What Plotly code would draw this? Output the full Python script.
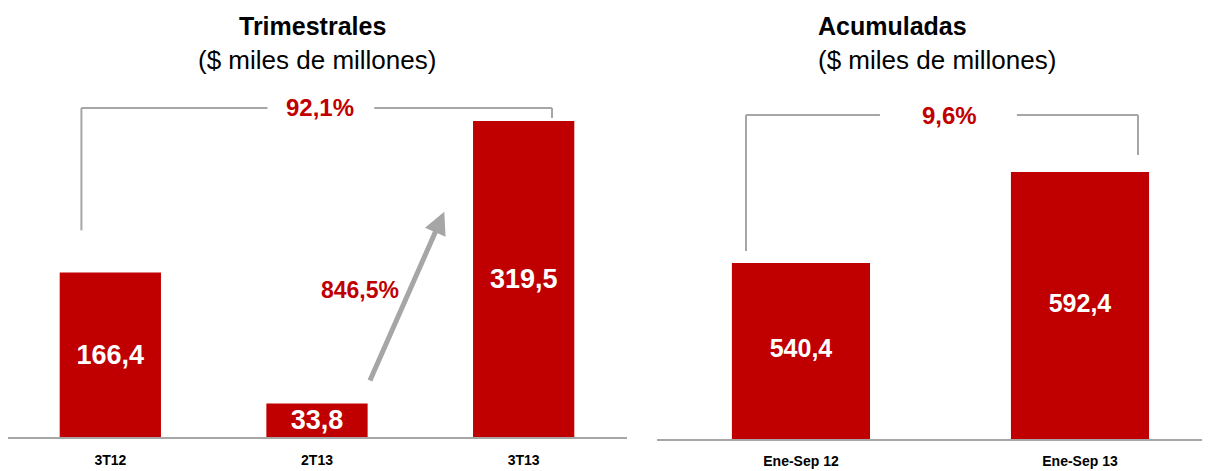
import plotly.graph_objects as go

# ---- data ----
q_categories = ["3T12", "2T13", "3T13"]
q_values = [166.4, 33.8, 319.5]
q_labels = ["166,4", "33,8", "319,5"]

a_categories = ["Ene-Sep 12", "Ene-Sep 13"]
a_values = [540.4, 592.4]
a_labels = ["540,4", "592,4"]

q_growth_total = "92,1%"
q_growth_last = "846,5%"
a_growth = "9,6%"

RED = "#C00000"
GRAY = "#A6A6A6"
FONT = "Liberation Sans, Arial, sans-serif"

# page offset (browser body margin) and figure size
OFF = 8
W, H = 1210 - OFF, 471 - OFF


def px(xs):
    return (xs - OFF) / W


def py(ys):
    return 1 - (ys - OFF) / H


# axis geometry (reference-screen pixels)
left_base = 437
left_scale = 0.989     # px per unit
right_base = 439
right_scale = 1.75
right_min = 439.8

fig = go.Figure()

fig.add_trace(go.Bar(
    x=q_categories, y=q_values, text=q_labels, xaxis="x", yaxis="y",
    marker=dict(color=RED, line=dict(width=0)), width=0.49,
    textposition="inside", insidetextanchor="middle", constraintext="none",
    textfont=dict(family=FONT, size=27, color="white", weight="bold"),
    hoverinfo="skip",
))
fig.add_trace(go.Bar(
    x=a_categories, y=a_values, xaxis="x2", yaxis="y2",
    marker=dict(color=RED, line=dict(width=0)), width=0.495,
    hoverinfo="skip",
))
# labels of the truncated-axis bars, centred in the visible part of each bar
fig.add_trace(go.Scatter(
    x=a_categories, y=[(v + right_min) / 2 for v in a_values], text=a_labels,
    mode="text", xaxis="x2", yaxis="y2", cliponaxis=False,
    textfont=dict(family=FONT, size=25, color="white", weight="bold"),
    hoverinfo="skip",
))

fig.update_layout(
    width=W, height=H,
    margin=dict(l=0, r=0, t=0, b=0, pad=0),
    paper_bgcolor="white", plot_bgcolor="white",
    showlegend=False,
    xaxis=dict(domain=[0, px(627)], range=[-0.5 + (OFF - 7) / 206.67, 2.5], type="category",
               showline=True, linecolor=GRAY, linewidth=1.5, showgrid=False,
               zeroline=False, ticks="", ticklabelstandoff=9,
               tickfont=dict(family=FONT, size=14, color="black", weight="bold"),
               anchor="y", fixedrange=True),
    yaxis=dict(domain=[py(left_base), 1], range=[0, (left_base - OFF) / left_scale],
               visible=False, anchor="x", fixedrange=True),
    xaxis2=dict(domain=[px(657), 1], range=[-0.516, 1.466], type="category",
                showline=True, linecolor=GRAY, linewidth=1.5, showgrid=False,
                zeroline=False, ticks="", ticklabelstandoff=8,
                tickfont=dict(family=FONT, size=14, color="black", weight="bold"),
                anchor="y2", fixedrange=True),
    yaxis2=dict(domain=[py(right_base), 1],
                range=[right_min, right_min + (right_base - OFF) / right_scale],
                visible=False, anchor="x2", fixedrange=True),
)

line = dict(color=GRAY, width=2)
# Left bracket (92,1%)
ly_top = 332.7
fig.add_shape(type="line", xref="x", yref="y", x0=-0.14, x1=-0.14, y0=209, y1=ly_top, line=line)
fig.add_shape(type="line", xref="x", yref="y", x0=-0.14, x1=0.76, y0=ly_top, y1=ly_top, line=line)
fig.add_shape(type="line", xref="x", yref="y", x0=1.277, x1=2.137, y0=ly_top, y1=ly_top, line=line)
fig.add_shape(type="line", xref="x", yref="y", x0=2.137, x1=2.137, y0=ly_top, y1=322.5, line=line)
fig.add_annotation(xref="x", yref="y", x=1.016, y=ly_top, text=q_growth_total, showarrow=False,
                   xanchor="center", yanchor="middle",
                   font=dict(family=FONT, size=24, color=RED, weight="bold"))

# Right bracket (9,6%)
ry_top = 624.9
fig.add_shape(type="line", xref="x2", yref="y2", x0=-0.197, x1=-0.197, y0=547.2, y1=ry_top, line=line)
fig.add_shape(type="line", xref="x2", yref="y2", x0=-0.197, x1=0.283, y0=ry_top, y1=ry_top, line=line)
fig.add_shape(type="line", xref="x2", yref="y2", x0=0.774, x1=1.208, y0=ry_top, y1=ry_top, line=line)
fig.add_shape(type="line", xref="x2", yref="y2", x0=1.208, x1=1.208, y0=ry_top, y1=602.1, line=line)
fig.add_annotation(xref="x2", yref="y2", x=0.534, y=ry_top, text=a_growth, showarrow=False,
                   xanchor="center", yanchor="middle",
                   font=dict(family=FONT, size=24, color=RED, weight="bold"))

# Arrow 2T13 -> 3T13
fig.add_annotation(xref="x", yref="y", axref="x", ayref="y",
                   x=1.616, y=227.8, ax=1.253, ay=55.6, text="",
                   showarrow=True, arrowhead=2, arrowsize=0.9, arrowwidth=5,
                   arrowcolor=GRAY)
fig.add_annotation(xref="x", yref="y", x=1.207, y=148.6, text=q_growth_last, showarrow=False,
                   xanchor="center", yanchor="middle",
                   font=dict(family=FONT, size=23, color=RED, weight="bold"))

# Titles
title_font = dict(family=FONT, size=25, color="black", weight="bold")
sub_font = dict(family=FONT, size=26, color="black")
fig.add_annotation(xref="paper", yref="paper", x=px(312), y=py(26), text="Trimestrales",
                   xanchor="center", yanchor="middle", showarrow=False, font=title_font)
fig.add_annotation(xref="paper", yref="paper", x=px(317), y=py(60), text="($ miles de millones)",
                   xanchor="center", yanchor="middle", showarrow=False, font=sub_font)
fig.add_annotation(xref="paper", yref="paper", x=px(892), y=py(26), text="Acumuladas",
                   xanchor="center", yanchor="middle", showarrow=False, font=title_font)
fig.add_annotation(xref="paper", yref="paper", x=px(937), y=py(60), text="($ miles de millones)",
                   xanchor="center", yanchor="middle", showarrow=False, font=sub_font)

fig.write_html("out.html")
